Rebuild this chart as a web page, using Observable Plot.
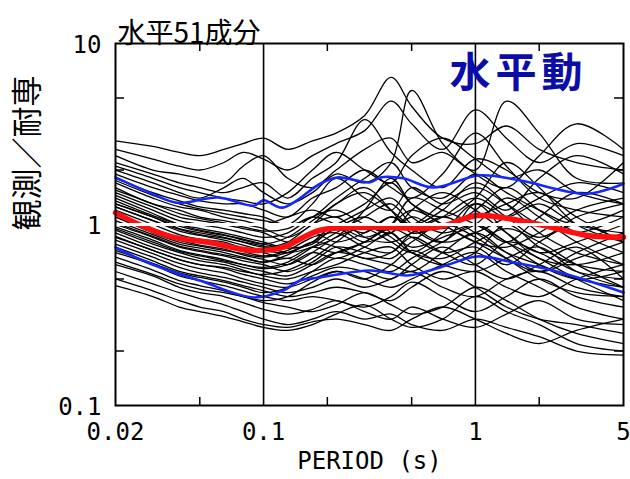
<!DOCTYPE html>
<html><head><meta charset="utf-8">
<script src="https://cdn.jsdelivr.net/npm/d3@7"></script>
<script src="https://cdn.jsdelivr.net/npm/@observablehq/plot@0.6"></script>
<style>body{margin:0;background:#fff}</style>
</head><body><div id="chart"></div>
<script>
// periods (s) for the individual component curves
const periods = [0.02,0.03,0.04,0.05,0.065,0.08,0.1,0.13,0.17,0.22,0.3,0.4,0.5,0.7,1,1.4,2,3,5];
const s01=[2.9,2.7,2.5,2.4,2.6,2.8,3.0,2.6,2.9,3.2,4.0,6.5,4.5,3.0,2.8,3.5,2.6,2.2,2.0];
const s02=[2.6,2.3,2.1,2.0,2.2,2.5,2.3,2.0,2.4,2.8,3.3,4.8,3.6,2.6,4.3,3.0,2.2,2.8,2.4];
const s03=[2.4,2.0,1.9,1.8,1.7,2.1,2.4,1.8,1.6,2.0,2.6,3.0,2.2,2.5,2.0,4.8,3.2,1.8,1.7];
const s04=[2.2,1.9,1.7,1.6,1.5,1.6,1.7,1.4,1.8,2.2,3.8,2.5,2.0,1.6,2.3,2.0,1.5,1.4,2.2];
const s05=[2.0,1.7,1.5,1.4,1.6,1.8,1.5,1.3,1.5,1.9,1.7,2.2,5.5,2.8,1.9,1.6,2.4,3.6,2.6];
const s06=[1.9,1.6,1.45,1.35,1.3,1.3,1.2,1.1,1.4,1.6,2.0,1.6,1.4,1.9,3.2,2.1,1.4,1.2,1.1];
const s07=[1.8,1.5,1.35,1.25,1.2,1.15,1.1,1.0,1.3,1.8,1.4,1.2,1.6,1.3,1.5,1.2,1.8,2.4,1.9];
const s08=[1.7,1.4,1.25,1.2,1.1,1.05,1.0,1.1,1.2,1.1,1.3,1.7,1.3,1.1,1.4,2.2,1.6,1.0,0.8];
const s09=[1.6,1.3,1.2,1.1,1.05,1.0,0.95,0.85,1.0,1.3,1.5,1.2,1.0,1.2,1.7,1.3,0.9,0.7,0.6];
const s10=[1.5,1.25,1.1,1.05,1.0,0.95,0.9,0.8,0.9,1.0,1.2,1.4,1.1,0.9,1.0,0.8,1.1,1.5,1.3];
const s11=[1.45,1.2,1.05,1.0,0.95,0.9,0.85,0.9,1.1,1.2,1.0,0.9,1.2,1.5,1.2,0.9,0.7,0.8,1.0];
const s12=[1.4,1.15,1.0,0.95,0.9,0.85,0.8,0.75,0.9,0.8,0.9,1.1,0.95,0.8,1.3,1.1,1.3,1.0,0.9];
const s13=[1.3,1.1,0.95,0.9,0.85,0.8,0.75,0.8,1.0,1.1,0.85,0.8,0.9,1.1,0.9,0.7,0.6,0.5,0.45];
const s14=[1.25,1.05,0.92,0.87,0.82,0.77,0.72,0.7,0.8,0.95,1.1,0.9,0.75,0.85,1.0,1.4,1.1,0.8,0.6];
const s15=[1.2,1.0,0.88,0.83,0.8,0.74,0.7,0.65,0.75,0.7,0.8,1.0,1.2,1.0,0.8,0.75,0.9,1.2,1.4];
const s16=[1.15,0.95,0.85,0.8,0.76,0.71,0.67,0.72,0.85,0.9,0.75,0.7,0.85,0.7,0.6,0.8,0.7,0.55,0.5];
const s17=[1.1,0.92,0.82,0.77,0.73,0.68,0.64,0.6,0.7,0.85,0.95,0.8,0.7,0.9,1.3,0.9,0.65,0.6,0.7];
const s18=[1.05,0.88,0.78,0.74,0.7,0.66,0.62,0.65,0.6,0.7,0.8,0.95,0.85,0.7,0.75,0.6,0.8,1.0,0.8];
const s19=[1.0,0.85,0.75,0.71,0.67,0.63,0.6,0.55,0.62,0.75,0.7,0.65,0.8,1.0,0.85,0.65,0.5,0.42,0.4];
const s20=[0.97,0.82,0.72,0.68,0.64,0.6,0.57,0.6,0.7,0.65,0.75,0.9,0.7,0.6,0.7,1.0,0.75,0.6,0.55];
const s21=[0.93,0.78,0.7,0.65,0.62,0.58,0.55,0.52,0.6,0.7,0.65,0.6,0.55,0.7,0.9,0.7,0.55,0.65,0.8];
const s22=[0.9,0.75,0.67,0.63,0.6,0.56,0.52,0.5,0.55,0.6,0.7,0.75,0.6,0.5,0.55,0.45,0.4,0.5,0.6];
const s23=[0.86,0.72,0.64,0.6,0.57,0.53,0.5,0.47,0.52,0.58,0.55,0.5,0.6,0.75,0.6,0.5,0.6,0.75,0.5];
const s24=[0.82,0.69,0.61,0.57,0.54,0.5,0.47,0.45,0.5,0.55,0.5,0.45,0.5,0.6,0.7,0.55,0.45,0.35,0.3];
const s25=[0.78,0.66,0.58,0.54,0.51,0.48,0.45,0.42,0.45,0.5,0.45,0.5,0.55,0.45,0.4,0.5,0.55,0.45,0.4];
const s26=[0.75,0.63,0.55,0.52,0.49,0.46,0.43,0.4,0.42,0.45,0.42,0.38,0.45,0.55,0.45,0.35,0.3,0.28,0.25];
const s27=[0.7,0.6,0.52,0.49,0.46,0.43,0.4,0.38,0.4,0.38,0.35,0.4,0.48,0.4,0.33,0.4,0.5,0.4,0.35];
const s28=[0.66,0.56,0.49,0.46,0.43,0.4,0.37,0.35,0.33,0.36,0.42,0.36,0.32,0.35,0.45,0.38,0.3,0.25,0.22];
const s29=[0.6,0.52,0.45,0.42,0.4,0.37,0.34,0.32,0.34,0.38,0.33,0.3,0.35,0.3,0.27,0.32,0.38,0.3,0.28];
const s30=[0.55,0.47,0.42,0.39,0.36,0.33,0.3,0.28,0.3,0.33,0.3,0.32,0.28,0.26,0.3,0.27,0.24,0.2,0.19];
const s31=[0.5,0.43,0.38,0.35,0.33,0.3,0.28,0.27,0.29,0.3,0.28,0.26,0.3,0.35,0.3,0.25,0.22,0.26,0.3];
const s32=[0.46,0.4,0.35,0.33,0.31,0.29,0.27,0.26,0.28,0.32,0.36,0.3,0.27,0.3,0.4,0.33,0.28,0.22,0.2];
const s33=[1.35,1.12,1.0,0.93,0.88,0.82,0.78,0.85,1.05,1.3,1.6,1.2,0.9,1.0,1.1,1.3,1.5,1.1,0.8];
const s34=[1.1,0.9,0.8,0.76,0.72,0.69,0.66,0.7,0.8,1.0,0.9,1.1,1.0,1.3,1.6,1.3,1.0,0.9,1.1];
const s35=[0.95,0.8,0.71,0.67,0.63,0.6,0.58,0.62,0.75,0.9,1.1,1.3,1.0,0.8,0.9,1.1,1.4,1.7,1.5];
const s36=[1.55,1.3,1.15,1.08,1.02,0.97,0.92,0.95,1.1,1.0,0.85,1.0,1.4,1.2,1.0,0.8,0.6,0.5,0.55];
const s37=[0.85,0.72,0.64,0.6,0.58,0.55,0.53,0.56,0.65,0.8,1.0,0.85,0.7,0.65,0.8,0.95,0.8,0.6,0.45];
const s38=[1.25,1.05,0.94,0.88,0.84,0.8,0.76,0.7,0.75,0.85,1.2,1.8,1.3,1.0,0.8,0.65,0.55,0.7,0.9];
const s39=[2.1,1.8,1.6,1.5,1.4,1.35,1.3,1.5,2.0,2.5,2.0,1.7,2.4,3.0,2.3,1.8,2.0,1.5,1.3];
const s40=[1.75,1.45,1.3,1.22,1.15,1.1,1.05,1.0,1.1,1.4,1.8,2.2,1.6,1.4,1.9,1.5,1.2,1.0,1.2];
const s41=[0.72,0.61,0.54,0.51,0.48,0.45,0.42,0.45,0.55,0.65,0.6,0.55,0.65,0.8,1.0,0.8,0.65,0.5,0.38];
const s42=[1.02,0.86,0.76,0.72,0.68,0.65,0.62,0.68,0.8,0.75,0.65,0.7,0.9,1.1,1.4,1.1,0.85,1.1,1.3];
const s43=[0.62,0.53,0.47,0.44,0.42,0.4,0.38,0.4,0.48,0.55,0.5,0.6,0.72,0.6,0.55,0.65,0.75,0.55,0.45];
const s44=[1.3,1.1,0.98,0.92,0.87,0.83,0.78,0.74,0.78,0.95,0.8,0.9,1.1,0.95,1.2,1.6,1.2,0.9,0.7];

// mean (red) and mean ± sigma (blue)
const meanP = [0.02,0.028,0.0375,0.054,0.087,0.12,0.185,0.32,0.66,1.02,1.63,2.33,3.37,5];
const meanV = [1.16,0.96,0.85,0.80,0.72,0.74,0.93,0.965,0.965,1.12,1.05,0.96,0.87,0.85];
const upP = [0.02,0.029,0.039,0.061,0.09,0.1,0.123,0.185,0.223,0.319,0.356,0.456,0.632,1.05,1.63,3.37,5];
const upV = [1.82,1.50,1.32,1.41,1.27,1.36,1.24,1.68,1.82,1.71,1.82,1.80,1.60,1.87,1.75,1.48,1.68];
const loP = [0.02,0.029,0.05,0.09,0.124,0.149,0.185,0.319,0.477,0.682,1.02,1.51,2.33,3.37,5];
const loV = [0.746,0.609,0.49,0.395,0.432,0.49,0.51,0.557,0.523,0.579,0.666,0.617,0.557,0.49,0.421];

const xTicks = [0.02,0.1,1,5];
const yTicks = [0.1,1,10];
const xMinor = [0.05,0.2,0.5,2];
const yMinor = [0.2,0.5,2,5];
const gridX = [0.1,1];

const series = [s01,s02,s03,s04,s05,s06,s07,s08,s09,s10,s11,s12,s13,s14,s15,s16,s17,s18,s19,s20,s21,s22,
  s23,s24,s25,s26,s27,s28,s29,s30,s31,s32,s33,s34,s35,s36,s37,s38,s39,s40,s41,s42,s43,s44];
const rows = series.flatMap((vals, i) => vals.map((v, j) => ({p: periods[j], v, id: i})));
const mean = meanP.map((p, i) => ({p, v: meanV[i]}));
const up = upP.map((p, i) => ({p, v: upV[i]}));
const lo = loP.map((p, i) => ({p, v: loV[i]}));

const cjk = "Noto Sans CJK JP";
const chart = Plot.plot({
  width: 630, height: 479,
  marginLeft: 115, marginRight: 7, marginTop: 43, marginBottom: 74,
  style: {fontFamily: "DejaVu Sans Mono", background: "white", color: "black"},
  x: {type: "log", domain: [0.02, 5]},
  y: {type: "log", domain: [0.1, 10]},
  marks: [
    Plot.line(rows, {x: "p", y: "v", z: "id", stroke: "black", strokeWidth: 1.3, curve: "catmull-rom"}),
    Plot.line(up, {x: "p", y: "v", stroke: "#1428ff", strokeWidth: 2.6, curve: "catmull-rom"}),
    Plot.line(lo, {x: "p", y: "v", stroke: "#1428ff", strokeWidth: 2.6, curve: "catmull-rom"}),
    Plot.line(mean, {x: "p", y: "v", stroke: "#ff1010", strokeWidth: 5.5, curve: "catmull-rom"}),
    Plot.ruleY([1], {stroke: "white", strokeWidth: 3}),
    Plot.ruleX(gridX, {stroke: "black", strokeWidth: 1.6}),
    Plot.ruleX(xMinor, {stroke: "black", strokeWidth: 1.5, insetTop: 354}),
    Plot.ruleX(xMinor, {stroke: "black", strokeWidth: 1.5, insetBottom: 354}),
    Plot.ruleY(yMinor, {stroke: "black", strokeWidth: 1.5, insetRight: 499}),
    Plot.ruleY(yMinor, {stroke: "black", strokeWidth: 1.5, insetLeft: 499}),
    Plot.frame({stroke: "black", strokeWidth: 2}),
    // x tick labels (text mark so the domain-end label "5" is kept)
    Plot.text(xTicks, {x: d => d, text: d => String(d), frameAnchor: "bottom", lineAnchor: "top",
      dy: 17, fontSize: 24, fill: "black"}),
    Plot.axisX({ticks: [], tickSize: 0, label: "PERIOD (s)", labelAnchor: "center", labelArrow: "none",
      labelOffset: 63, fontSize: 24}),
    Plot.axisY({ticks: yTicks, tickSize: 0, tickPadding: 14, tickFormat: d => String(d),
      fontSize: 24, dy: 2, label: null}),
    Plot.text(["水平51成分"], {text: d => d, frameAnchor: "top-left", textAnchor: "start", lineAnchor: "bottom",
      dx: 2, dy: -1, fontSize: 28, fontFamily: cjk, fill: "black"}),
    Plot.text(["水平動"], {text: d => d, frameAnchor: "top-right", textAnchor: "end", lineAnchor: "top",
      dx: -36, dy: 14, fontSize: 41, fontWeight: "bold", fontFamily: cjk, fill: "#0c0ca8", className: "hd"}),
    Plot.text(["観測／耐専"], {text: d => d, frameAnchor: "left", rotate: -90, dx: -87, dy: 6,
      fontSize: 31, fontFamily: cjk, fill: "black"})
  ]
});
d3.select(chart).selectAll(".hd text").attr("letter-spacing", "5px");
document.getElementById("chart").append(chart);
</script>
</body></html>
